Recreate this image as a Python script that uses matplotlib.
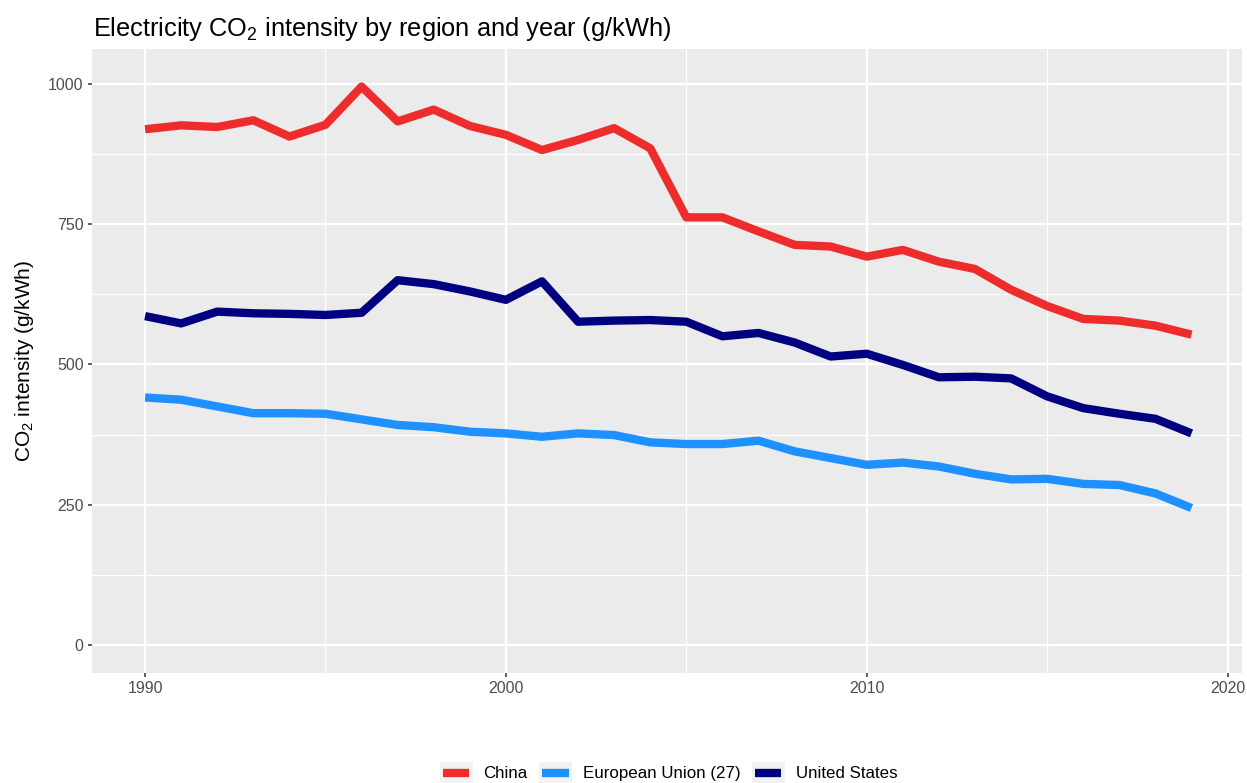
import matplotlib
matplotlib.use("Agg")
import matplotlib.pyplot as plt
from matplotlib.ticker import MultipleLocator
from matplotlib.patches import Rectangle
from matplotlib.lines import Line2D
import numpy as np

plt.rcParams['font.family'] = ['Liberation Sans', 'DejaVu Sans']
plt.rcParams['mathtext.fontset'] = 'custom'
plt.rcParams['mathtext.rm'] = 'Liberation Sans'
plt.rcParams['mathtext.default'] = 'regular'

# data
years = np.arange(1990, 2020)
china = [919, 926, 923, 935, 906, 927, 995, 933, 954, 925,
         909, 882, 900, 921, 885, 762, 762, 737, 713, 710,
         692, 704, 683, 670, 633, 604, 581, 578, 569, 553]
eu27 = [441, 437, 425, 413, 413, 412, 402, 392, 388, 380,
        377, 371, 377, 374, 361, 358, 358, 364, 345, 333,
        321, 325, 318, 305, 295, 296, 287, 285, 270, 244]
usa = [586, 573, 594, 591, 590, 588, 592, 650, 643, 630,
       615, 648, 576, 578, 579, 576, 550, 556, 539, 514,
       519, 499, 477, 478, 475, 443, 422, 412, 403, 377]

regions = ["China", "European Union (27)", "United States"]
colours = ["#EE2C2C", "#1E90FF", "#000080"]


class KeyHandler:
    # grey key box with a shorter line in the middle, like ggplot
    def legend_artist(self, legend, orig, fontsize, handlebox):
        x0, y0 = -handlebox.xdescent, -handlebox.ydescent
        w, h = handlebox.width, handlebox.height
        tr = handlebox.get_transform()
        box = Rectangle((x0, y0), w, h, facecolor="#F2F2F2", edgecolor="none", transform=tr)
        ln = Line2D([x0 + 0.1 * w, x0 + 0.9 * w], [y0 + h / 2] * 2, color=orig.get_color(),
                    lw=6, solid_capstyle="butt", transform=tr)
        handlebox.add_artist(box)
        handlebox.add_artist(ln)
        return ln


fig = plt.figure(figsize=(12.47, 7.83), dpi=100)
ax = fig.add_axes([0.0738, 0.1405, 0.9222, 0.7969])
ax.set_facecolor("#EBEBEB")

lines = []
for name, vals, col in zip(regions, [china, eu27, usa], colours):
    l, = ax.plot(years, vals, color=col, lw=6, label=name, solid_capstyle="butt", zorder=3)
    lines.append(l)

ax.set_xlim(1988.53, 2020.4)
ax.set_ylim(-50, 1062)
ax.xaxis.set_major_locator(MultipleLocator(10))
ax.xaxis.set_minor_locator(MultipleLocator(5))
ax.yaxis.set_major_locator(MultipleLocator(250))
ax.yaxis.set_minor_locator(MultipleLocator(125))
ax.grid(which="major", color="white", lw=1.6)
ax.grid(which="minor", color="white", lw=0.8)
ax.set_axisbelow(True)
for s in ax.spines.values():
    s.set_visible(False)
ax.tick_params(which="major", length=3, width=1.1, color="#333333",
               labelcolor="#4D4D4D", labelsize=11.5, pad=3)
ax.tick_params(which="minor", length=0)

ax.set_ylabel(r"CO$_2$ intensity (g/kWh)", fontsize=15, color="black", labelpad=9)
fig.text(0.0745, 0.963, r"Electricity CO$_2$ intensity by region and year (g/kWh)",
         fontsize=18.3, va="center", ha="left")

fig.legend(lines, regions, loc="center", bbox_to_anchor=(0.536, 0.013), ncol=3,
           frameon=False, fontsize=12.2, handlelength=1.95, handleheight=1.6,
           handletextpad=0.65, columnspacing=0.65,
           handler_map={Line2D: KeyHandler()})

fig.savefig("out.png", dpi=100)
